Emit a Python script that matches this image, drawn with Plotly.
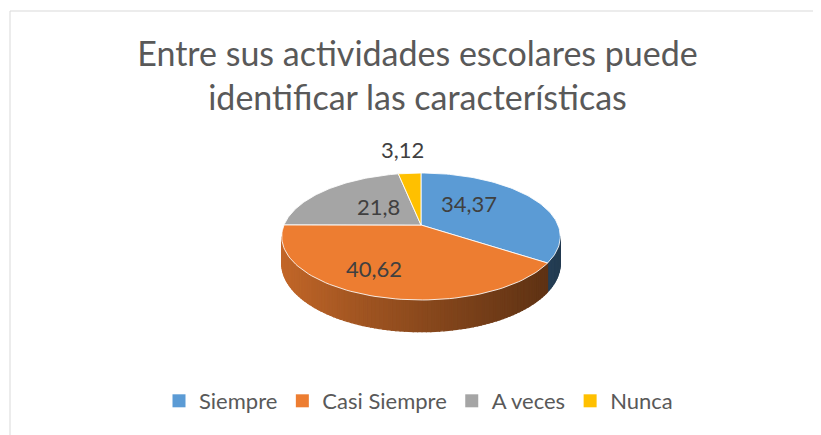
import numpy as np
import plotly.graph_objects as go

# ---- data ----
categories = ["Siempre", "Casi Siempre", "A veces", "Nunca"]
values = [34.37, 40.62, 21.8, 3.12]
value_labels = ["34,37", "40,62", "21,8", "3,12"]
title_lines = ["Entre sus actividades escolares puede", "identificar las características"]

# ---- style ----
colors = ["#5B9BD5", "#ED7D31", "#A5A5A5", "#FFC000"]
PAGE_W, PAGE_H = 821, 435
OFF = 8                    # default page body margin
W, H = PAGE_W - OFF, PAGE_H - OFF
CX, CY = 421, 225          # apex of the pie (page pixels)
RX, RY = 137, 61.4         # projected radii
K = 0.181                  # perspective factor
DEPTH = 26                 # wall height
FONT = "Lato"
TEXT = "#595959"
LABEL_R = [0.45, 0.45, 0.45, 1.0]
LABEL_NUDGE = [(-4, -9), (-27, 15), (3, -2), (-7, -24)]


def proj(theta_deg, r=1.0, h=0.0):
    t = np.radians(theta_deg)
    u = r * np.sin(t)
    v = -r * np.cos(t)
    s = 1.0 / (1.0 - K * v)
    return CX + RX * u * s, CY + RY * v * s + h * DEPTH * s


def hex_rgb(h):
    h = h.lstrip("#")
    return [int(h[i:i + 2], 16) for i in (0, 2, 4)]


total = sum(values)
bounds = np.concatenate([[0], np.cumsum(values)]) / total * 360.0

# silhouette of the wall (rightmost / leftmost projected points)
samp = np.arange(0, 360, 0.1)
sx, _ = proj(samp)
th_right = samp[np.argmax(sx)]
th_left = samp[np.argmin(sx)]
x_min, x_max = sx.min(), sx.max()

fig = go.Figure()

# ---- side walls ----
for i, c in enumerate(colors):
    a0 = max(bounds[i], th_right)
    a1 = min(bounds[i + 1], th_left)
    if a1 <= a0:
        continue
    n = max(2, int((a1 - a0) / 1.5))
    edges = np.linspace(a0, a1, n + 1)
    base = np.array(hex_rgb(c), dtype=float)
    for j in range(n):
        ta, tb = edges[j], edges[j + 1]
        arc = np.linspace(ta, tb, 3)
        xt, yt = proj(arc)
        xb, yb = proj(arc[::-1], h=1.0)
        xm, _ = proj((ta + tb) / 2)
        f = (xm - x_min) / (x_max - x_min)
        shade = 0.82 - 0.44 * f ** 0.9
        col = "rgb(%d,%d,%d)" % tuple(np.round(base * shade).astype(int))
        fig.add_trace(go.Scatter(
            x=np.concatenate([xt, xb, xt[:1]]), y=np.concatenate([yt, yb, yt[:1]]),
            mode="lines", fill="toself", fillcolor=col,
            line=dict(color=col, width=1.2), hoverinfo="skip", showlegend=False))

# ---- top faces ----
for i, c in enumerate(colors):
    arc = np.linspace(bounds[i], bounds[i + 1], 80)
    xa, ya = proj(arc)
    fig.add_trace(go.Scatter(
        x=np.concatenate([[CX], xa, [CX]]), y=np.concatenate([[CY], ya, [CY]]),
        mode="lines", fill="toself", fillcolor=c,
        line=dict(color="rgba(255,255,255,0.85)", width=1),
        hoverinfo="skip", showlegend=False))

# ---- data labels ----
for i, lab in enumerate(value_labels):
    mid = (bounds[i] + bounds[i + 1]) / 2
    lx, ly = proj(mid, r=LABEL_R[i])
    dx, dy = LABEL_NUDGE[i]
    fig.add_annotation(x=lx + dx, y=ly + dy, text=lab, showarrow=False,
                       font=dict(family=FONT, size=22, color="#404040"),
                       xanchor="center", yanchor="middle")

# ---- legend entries ----
for cat, c in zip(categories, colors):
    fig.add_trace(go.Scatter(x=[None], y=[None], mode="markers", name=cat,
                             marker=dict(symbol="square", size=13, color=c)))

# chart border
fig.add_shape(type="rect", x0=10, y0=11, x1=PAGE_W + 10, y1=PAGE_H + 10,
              line=dict(color="#D9D9D9", width=1), layer="below")

fig.update_layout(
    width=W, height=H, autosize=False,
    margin=dict(l=0, r=0, t=0, b=0, pad=0, autoexpand=False),
    paper_bgcolor="white", plot_bgcolor="white",
    title=dict(text="<br>".join(title_lines), x=(417.5 - OFF) / W, xanchor="center",
               y=1 - (66 - OFF) / H, yanchor="middle", yref="container",
               font=dict(family=FONT, size=34, color=TEXT)),
    xaxis=dict(range=[OFF, PAGE_W], visible=False, fixedrange=True),
    yaxis=dict(range=[PAGE_H, OFF], visible=False, fixedrange=True),
    showlegend=True,
    legend=dict(orientation="h", x=(418.5 - OFF) / W, xanchor="center",
                y=1 - (401 - OFF) / H, yanchor="middle",
                font=dict(family=FONT, size=22, color=TEXT),
                bgcolor="rgba(0,0,0,0)"),
)

fig.write_html("out.html")
